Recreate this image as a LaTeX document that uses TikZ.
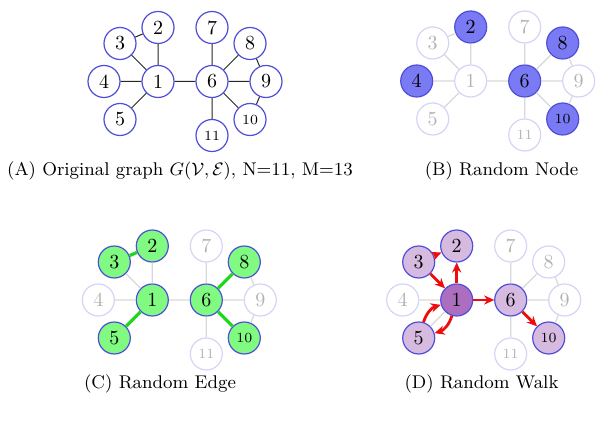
\documentclass[tikz,border=0pt]{standalone}
\usetikzlibrary{arrows.meta}

\definecolor{vborder}{RGB}{78,78,218}
\definecolor{fadeborder}{RGB}{212,212,245}
\definecolor{fadetext}{RGB}{178,178,178}
\definecolor{fadeedge}{RGB}{216,216,216}
\definecolor{nodefill}{RGB}{122,122,245}
\definecolor{edgefill}{RGB}{128,250,128}
\definecolor{edgehot}{RGB}{30,215,30}
\definecolor{walkfill}{RGB}{215,186,224}
\definecolor{walkstart}{RGB}{172,110,190}
\definecolor{walkred}{RGB}{238,12,12}

\tikzset{
  vtx/.style={circle, draw=vborder, line width=0.6pt, minimum size=16pt,
    inner sep=0pt, text=black},
  tiny/.style={font=\scriptsize},
  off/.style={draw=fadeborder, text=fadetext},
  pick/.style={fill=nodefill},
  epick/.style={fill=edgefill},
  wpick/.style={fill=walkfill},
  wstart/.style={fill=walkstart},
  link/.style={draw=black!85, line width=0.5pt},
  flink/.style={draw=fadeedge, line width=0.6pt},
  glink/.style={draw=edgehot, line width=1.6pt},
  hop/.style={draw=walkred, line width=1.4pt,
    -{Stealth[length=5pt,width=4.6pt]}},
  subcap/.style={inner sep=0pt, font=\fontsize{9.2}{11}\selectfont},
}

% the 13 edges of the graph
\newcommand\edgelist{1/2,1/3,1/4,1/5,2/3,1/6,6/7,6/8,6/9,6/10,6/11,8/9,9/10}

\begin{document}
\begin{tikzpicture}[x=0.5pt, y=-0.5pt]
\useasboundingbox (0,0) rectangle (600,422);

% ---------------- (A) original graph ----------------
\begin{scope}[shift={(158,81.5)}]
  \node[vtx] (a1) at (0,0) {1};
  \node[vtx] (a2) at (0,-54) {2};
  \node[vtx] (a3) at (-38,-38) {3};
  \node[vtx] (a4) at (-54,0) {4};
  \node[vtx] (a5) at (-38,38) {5};
  \node[vtx] (a6) at (54,0) {6};
  \node[vtx] (a7) at (54,-54) {7};
  \node[vtx] (a8) at (92,-38) {8};
  \node[vtx] (a9) at (108,0) {9};
  \node[vtx,tiny] (a10) at (92,38) {10};
  \node[vtx,tiny] (a11) at (54,54) {11};
\end{scope}
\draw[link] \foreach \u/\v in \edgelist {(a\u) -- (a\v)};
\node[subcap] (capA) at (180,171)
  {(A) Original graph $G(\mathcal{V},\mathcal{E})$, N=11, M=13};

% ---------------- (B) random node ----------------
\begin{scope}[shift={(470.7,81)}]
  \node[vtx,off] (b1) at (0,0) {1};
  \node[vtx,pick] (b2) at (0,-54) {2};
  \node[vtx,off] (b3) at (-38,-38) {3};
  \node[vtx,pick] (b4) at (-54,0) {4};
  \node[vtx,off] (b5) at (-38,38) {5};
  \node[vtx,pick] (b6) at (54,0) {6};
  \node[vtx,off] (b7) at (54,-54) {7};
  \node[vtx,pick] (b8) at (92,-38) {8};
  \node[vtx,off] (b9) at (108,0) {9};
  \node[vtx,pick,tiny] (b10) at (92,38) {10};
  \node[vtx,off,tiny] (b11) at (54,54) {11};
\end{scope}
\draw[flink] \foreach \u/\v in \edgelist {(b\u) -- (b\v)};
\node[subcap] (capB) at (501.5,171) {(B) Random Node};

% ---------------- (C) random edge ----------------
\begin{scope}[shift={(152.3,300)}]
  \node[vtx,epick] (c1) at (0,0) {1};
  \node[vtx,epick] (c2) at (0,-54) {2};
  \node[vtx,epick] (c3) at (-38,-38) {3};
  \node[vtx,off] (c4) at (-54,0) {4};
  \node[vtx,epick] (c5) at (-38,38) {5};
  \node[vtx,epick] (c6) at (54,0) {6};
  \node[vtx,off] (c7) at (54,-54) {7};
  \node[vtx,epick] (c8) at (92,-38) {8};
  \node[vtx,off] (c9) at (108,0) {9};
  \node[vtx,epick,tiny] (c10) at (92,38) {10};
  \node[vtx,off,tiny] (c11) at (54,54) {11};
\end{scope}
\draw[flink] \foreach \u/\v in \edgelist {(c\u) -- (c\v)};
\draw[glink] (c2) -- (c3) (c1) -- (c5) (c6) -- (c8) (c6) -- (c10);
\node[subcap] (capC) at (160,384) {(C) Random Edge};

% ---------------- (D) random walk ----------------
\begin{scope}[shift={(456.7,300)}]
  \node[vtx,wstart] (d1) at (0,0) {1};
  \node[vtx,wpick] (d2) at (0,-54) {2};
  \node[vtx,wpick] (d3) at (-38,-38) {3};
  \node[vtx,off] (d4) at (-54,0) {4};
  \node[vtx,wpick] (d5) at (-38,38) {5};
  \node[vtx,wpick] (d6) at (54,0) {6};
  \node[vtx,off] (d7) at (54,-54) {7};
  \node[vtx,off] (d8) at (92,-38) {8};
  \node[vtx,off] (d9) at (108,0) {9};
  \node[vtx,wpick,tiny] (d10) at (92,38) {10};
  \node[vtx,off,tiny] (d11) at (54,54) {11};
\end{scope}
\draw[flink] \foreach \u/\v in \edgelist {(d\u) -- (d\v)};
\draw[hop] (d3) -- (d2);
\draw[hop] (d3) -- (d1);
\draw[hop] (d1) -- (d2);
\draw[hop] (d1) -- (d6);
\draw[hop] (d6) -- (d10);
\draw[hop] (d1) to[bend left=28] (d5);
\draw[hop] (d5) to[bend left=28] (d1);
\node[subcap] (capD) at (481.5,384) {(D) Random Walk};
\end{tikzpicture}
\end{document}
